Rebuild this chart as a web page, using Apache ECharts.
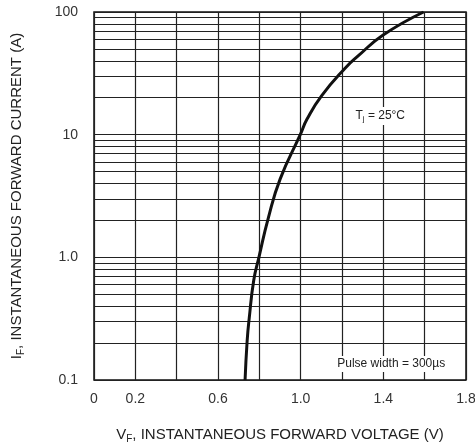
<!DOCTYPE html>
<html><head><meta charset="utf-8">
<script src="https://cdn.jsdelivr.net/npm/echarts@6/dist/echarts.min.js"></script>
<style>html,body{margin:0;padding:0;background:#fff}#c{width:475px;height:443px}</style>
</head><body><div id="c"></div>
<script>
// Forward voltage (V) and forward current (A)
var voltage = [0.731, 0.741, 0.751, 0.773, 0.798, 0.843, 0.901, 0.998, 1.031, 1.101, 1.215, 1.278, 1.399, 1.595];
var current = [0.1, 0.208, 0.318, 0.65, 1.0, 2.08, 4.36, 10, 13.4, 20.7, 34.8, 43.8, 64.9, 100];
// x tick labels shown
var xLabels = ['0', '0.2', '0.6', '1.0', '1.4', '1.8'];
// y tick labels
var yLabels = ['0.1', '1.0', '10', '100'];
// minor horizontal grid lines (log paper)
var minorY = [0.2,0.3,0.4,0.5,0.6,0.7,0.8,0.9, 2,3,4,5,6,7,8,9, 20,30,40,50,60,70,80,90];

var font = 'Liberation Sans, Arial, sans-serif';
var chart = echarts.init(document.getElementById('c'));
chart.setOption({
  animation: false,
  grid: {left: 94, top: 12, right: 9, bottom: 63, show: true, borderColor: '#111', borderWidth: 1.5, outerBoundsMode: 'none', containLabel: false},
  xAxis: {
    type: 'value', min: 0, max: 1.8, interval: 0.2,
    axisLine: {show: false}, axisTick: {show: false},
    splitLine: {show: true, lineStyle: {color: '#222', width: 1.2}},
    axisLabel: {
      color: '#333', fontSize: 14, fontFamily: font, margin: 12,
      formatter: function (v) {
        var s = (Math.round(v * 10) / 10).toFixed(1);
        if (s === '0.0') s = '0';
        return xLabels.indexOf(s) >= 0 ? s : '';
      }
    },
    name: '{a|V}{s|F}{a|, INSTANTANEOUS FORWARD VOLTAGE (V)}',
    nameLocation: 'middle', nameGap: 46,
    nameTextStyle: {rich: {
      a: {fontSize: 15, color: '#222', fontFamily: font},
      s: {fontSize: 10, color: '#222', fontFamily: font, verticalAlign: 'bottom', padding: [8, 0, 0, 0]}
    }}
  },
  yAxis: {
    type: 'log', logBase: 10, min: 0.1, max: 100,
    axisLine: {show: false}, axisTick: {show: false},
    splitLine: {show: true, lineStyle: {color: '#222', width: 1.2}},
    axisLabel: {
      color: '#333', fontSize: 14, fontFamily: font, margin: 16,
      formatter: function (v) {
        var e = Math.round(Math.log10(v));
        return yLabels[e + 1];
      }
    },
    name: '{a|I}{s|F}{a|, INSTANTANEOUS FORWARD CURRENT (A)}',
    nameLocation: 'middle', nameGap: 68,
    nameTextStyle: {rich: {
      a: {fontSize: 15, color: '#222', fontFamily: font},
      s: {fontSize: 10, color: '#222', fontFamily: font, verticalAlign: 'bottom', padding: [8, 0, 0, 0]}
    }}
  },
  series: [{
    type: 'line', smooth: true, showSymbol: false,
    data: voltage.map(function (v, i) { return [v, current[i]]; }),
    lineStyle: {color: '#111', width: 3},
    z: 5,
    markLine: {
      silent: true, symbol: ['none', 'none'], label: {show: false},
      lineStyle: {color: '#222', width: 1, type: 'solid'},
      data: minorY.map(function (v) { return {yAxis: v}; }),
      z: 1
    },
    markPoint: {
      silent: true, symbolSize: 0,
      data: [
        {coord: [1.385, 14.2], label: {show: true, formatter: '{a|T}{s|j}{a| = 25°C}', backgroundColor: '#fff', padding: [2, 4],
          rich: {a: {fontSize: 12, color: '#222', fontFamily: font}, s: {fontSize: 8, color: '#222', fontFamily: font, verticalAlign: 'bottom', padding: [6, 0, 0, 0]}}}},
        {coord: [1.438, 0.135], label: {show: true, formatter: 'Pulse width = 300µs', fontSize: 12, color: '#222', fontFamily: font, backgroundColor: '#fff', padding: [2, 4]}}
      ]
    }
  }]
});
</script></body></html>
